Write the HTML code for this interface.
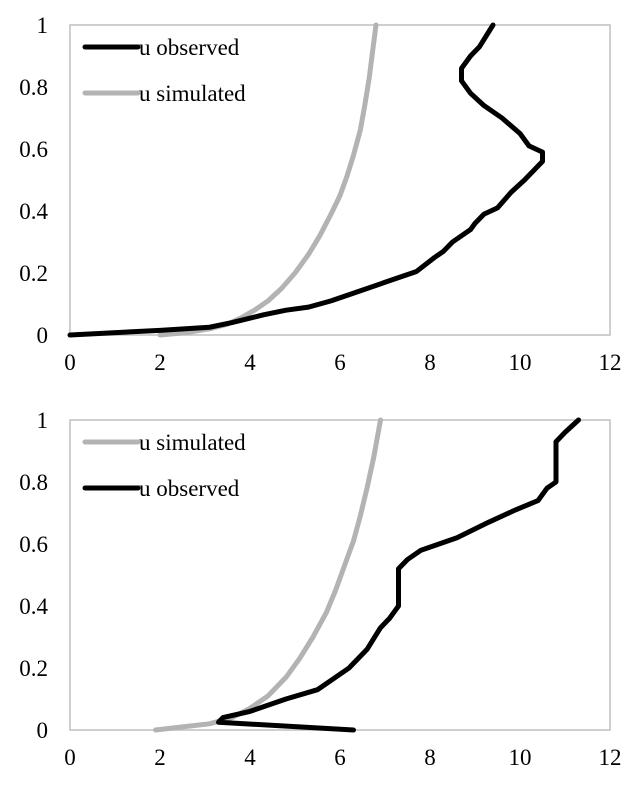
<!DOCTYPE html>
<html><head><style>
body{margin:0;background:#fff;}
svg text{font-family:"Liberation Serif",serif;font-size:23px;fill:#000;}
</style></head><body>
<svg width="637" height="787" id="svg"></svg>
<script>
const xTicks=[0,2,4,6,8,10,12];
const yTicks=[0,0.2,0.4,0.6,0.8,1];
const yTickLabels=["0","0.2","0.4","0.6","0.8","1"];
const topObsX=[0,2,3.1,3.6,4.3,4.8,5.3,5.8,6.4,7,7.7,8.1,8.3,8.5,8.9,9,9.2,9.5,9.8,10.1,10.5,10.5,10.2,10,9.6,9.2,8.9,8.7,8.7,8.9,9.1,9.4];
const topObsY=[0,0.015,0.025,0.04,0.065,0.08,0.09,0.11,0.14,0.17,0.205,0.25,0.27,0.3,0.34,0.36,0.39,0.41,0.46,0.5,0.56,0.59,0.61,0.65,0.7,0.74,0.78,0.82,0.86,0.9,0.93,1];
const topSimX=[2,2.6,3.1,3.5,3.8,4.1,4.4,4.7,5,5.3,5.55,5.8,6,6.15,6.3,6.45,6.55,6.65,6.72,6.8];
const topSimY=[0,0.008,0.02,0.035,0.055,0.08,0.11,0.15,0.2,0.26,0.32,0.39,0.45,0.51,0.58,0.66,0.74,0.83,0.91,1];
const botSimX=[1.9,2.5,3.1,3.6,4,4.4,4.8,5.1,5.4,5.7,5.9,6.1,6.3,6.45,6.6,6.75,6.9];
const botSimY=[0,0.01,0.02,0.04,0.07,0.11,0.17,0.23,0.3,0.38,0.45,0.53,0.61,0.69,0.78,0.88,1];
const botObsX=[6.3,3.3,3.4,4,4.8,5.5,5.8,6.2,6.6,6.9,7.1,7.2,7.3,7.3,7.5,7.8,8.6,9.3,9.9,10.4,10.6,10.8,10.8,11,11.3];
const botObsY=[0,0.025,0.04,0.06,0.1,0.13,0.16,0.2,0.26,0.33,0.36,0.38,0.4,0.52,0.55,0.58,0.62,0.67,0.71,0.74,0.78,0.8,0.93,0.96,1];

const svg=document.getElementById('svg');
const NS='http://www.w3.org/2000/svg';
function mk(t,a,p){const e=document.createElementNS(NS,t);for(const k in a)e.setAttribute(k,a[k]);(p||svg).appendChild(e);return e;}
function panel(name,top,series,legend){
  const L=70,R=610,T=top,B=top+310;
  const xs=v=>L+(R-L)*v/12, ys=v=>B-(B-T)*v;
  const g=mk('g',{});
  
  
  const box=mk('rect',{x:L,y:T,width:R-L,height:B-T,fill:'none',stroke:'#bfbfbf','stroke-width':1.5},g);
  
  
  xTicks.forEach(v=>{const t=mk('text',{x:xs(v),y:B+35,'text-anchor':'middle'},g);t.textContent=v;
    
    });
  yTicks.forEach((v,i)=>{const t=mk('text',{x:48,y:ys(v)+8,'text-anchor':'end'},g);t.textContent=yTickLabels[i];
    
    });
  series.forEach(s=>{
    const pts=s.x.map((v,i)=>xs(v)+','+ys(s.y[i])).join(' ');
    const p=mk('polyline',{points:pts,fill:'none',stroke:s.c,'stroke-width':5,'stroke-linejoin':'round','stroke-linecap':'round'},g);
    
    
  });
  legend.forEach((s,i)=>{
    const y=T+22+i*46;
    const l=mk('line',{x1:85,y1:y,x2:138,y2:y,stroke:s.c,'stroke-width':5,'stroke-linecap':'round'},g);
    
    
    const t=mk('text',{x:139,y:y+8,'font-size':24},g);t.textContent=s.label;
    
    
  });
}
panel('top-chart',25,[{x:topSimX,y:topSimY,c:'#b3b3b3',n:'series-u-simulated'},{x:topObsX,y:topObsY,c:'#000',n:'series-u-observed'}],
  [{c:'#000',label:'u observed'},{c:'#b3b3b3',label:'u simulated'}]);
panel('bottom-chart',420,[{x:botSimX,y:botSimY,c:'#b3b3b3',n:'series-u-simulated'},{x:botObsX,y:botObsY,c:'#000',n:'series-u-observed'}],
  [{c:'#b3b3b3',label:'u simulated'},{c:'#000',label:'u observed'}]);
</script>
</body></html>
